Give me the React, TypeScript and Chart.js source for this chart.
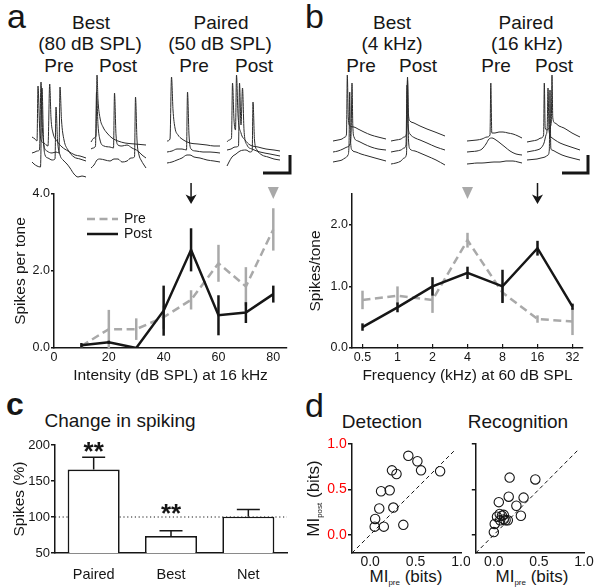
import React, { useEffect, useRef } from "react";
import { Chart, registerables } from "chart.js";

Chart.register(...registerables);

const FAMILY = "'Liberation Sans', Arial, Helvetica, sans-serif";
const INK = "#161616";
const GRAY = "#a9a9a9";

// ---------------- Panel a: intensity tuning at 16 kHz ----------------
const intensityDb = [10, 20, 30, 40, 50, 60, 70, 80];
const intensityPre = [0.05, 0.49, 0.49, 0.8, 1.25, 2.2, 1.6, 3.08];
const intensityPreErr = [0.04, 0.5, 0.28, 0.3, 0.25, 0.48, 0.5, 0.55];
const intensityPost = [0.07, 0.15, 0.0, 0.97, 2.55, 0.85, 0.92, 1.4];
const intensityPostErr = [0.06, 0.04, 0.0, 0.65, 0.56, 0.52, 0.27, 0.22];
const pairedIntensity = 50;
const bestIntensity = 80;

// ---------------- Panel b: frequency tuning at 60 dB SPL ----------------
const freqLabels = ["0.5", "1", "2", "4", "8", "16", "32"];
const freqPre = [0.78, 0.85, 0.78, 1.75, 0.9, 0.47, 0.43];
const freqPreErr = [0.15, 0.15, 0.21, 0.12, 0.15, 0.06, 0.22];
const freqPost = [0.34, 0.66, 1.0, 1.22, 1.0, 1.62, 0.67];
const freqPostErr = [0.06, 0.08, 0.15, 0.1, 0.27, 0.12, 0.05];
const pairedFreqIndex = 5;
const bestFreqIndex = 3;

// ---------------- Panel c: change in spiking ----------------
const spikeGroups = ["Paired", "Best", "Net"];
const spikeChange = [166, 73.5, 100.5];
const spikeChangeErr = [17, 7.5, 10];
const sigMarks = ["**", "**", ""];
const sigLevels = [200, 114, 0];
const baselinePct = 100;

// ---------------- Panel d: mutual information ----------------
const detectPre = [0.05, 0.055, 0.1, 0.12, 0.15, 0.215, 0.24, 0.29, 0.255, 0.365, 0.42, 0.52, 0.56, 0.77];
const detectPost = [0.09, 0.175, 0.29, 0.48, 0.09, 0.49, 0.71, 0.67, 0.3, 0.11, 0.87, 0.81, 0.71, 0.7];
const recogPre = [0.0, 0.01, 0.035, 0.055, 0.065, 0.09, 0.11, 0.13, 0.155, 0.07, 0.11, 0.175, 0.165, 0.25, 0.33, 0.3, 0.46];
const recogPost = [0.03, 0.12, 0.2, 0.36, 0.23, 0.21, 0.22, 0.16, 0.16, 0.16, 0.17, 0.63, 0.42, 0.32, 0.41, 0.21, 0.61];

// ---------------- Example membrane-potential traces (page units) ----------------
const aBestPre = [
  [[32,137],[35,139],[37,141],[38,86],[39.5,125],[41,140],[44,143],[48,146],[49.7,84],[51,118],[53,133],[57,141],[62,147],[68,151],[75,155],[80,156],[86,158]],
  [[32,153],[35,152],[37,151],[39.5,150],[41,82],[42.5,130],[44,146],[47,151],[52,153],[56,152],[59,153],[60,87],[61.5,120],[64,140],[68,150],[74,157],[80,159],[86,161]],
  [[32,162],[34,164],[37,166],[40.5,167],[42,88],[43.5,140],[45,155],[48,158],[52,160],[55,159],[56,107],[57.5,140],[60,155],[63,160],[67,164],[70,168],[74,174],[78,177],[82,176],[86,177]],
];
const aBestPost = [
  [[91,142],[94,138],[96,136],[97,75],[98,100],[100,118],[103,127],[107,133],[112,138],[118,141],[125,143],[135,144],[146,145]],
  [[91,149],[93,148],[95.5,146],[96.5,92],[98,125],[100,140],[104,146],[110,147],[113.5,148],[114.5,93],[116,135],[118,145],[122,146],[127,145],[132,148],[138,151],[142,155],[146,158]],
  [[91,168],[94,165],[97,160],[100,159],[105,160],[110,161],[114,159],[118,159],[122,162],[127,161],[131,158],[134.5,157],[135.5,97],[137,140],[139,155],[141,160],[144,165],[146,168]],
];
const aPairedPre = [
  [[167,141],[170,139],[171.5,77],[173,110],[175,128],[178,135],[182,139],[190,143],[198,144],[207,145],[214,146],[220,146]],
  [[167,152],[172,151],[177,149],[182,149],[186.5,150],[187.5,92],[189,135],[191,149],[196,151],[203,152],[210,152],[220,153]],
  [[167,163],[172,162],[177,160],[182,158],[187,155],[190,155],[194,157],[200,158],[207,160],[214,161],[220,162]],
];
const aPairedPost = [
  [[227,142],[229,140],[231.5,138],[232.5,83],[234,120],[235.5,130],[236.5,75],[238,115],[241,133],[245,140],[250,145],[258,147],[266,149],[274,150],[280,151]],
  [[227,150],[231,149],[235,147],[238.5,146],[239.5,83],[241,125],[242.5,88],[244,130],[247,145],[252,149],[260,152],[270,154],[280,156]],
  [[227,166],[229,162],[232,157],[236,154],[240,151],[246,150],[250,152],[252.2,151],[253,102],[254.5,140],[257,150],[262,155],[268,157],[274,159],[280,160]],
];
const bBestPre = [
  [[333,141],[338,140],[342,139],[345,137],[346.5,134],[347.3,75],[348.3,118],[350,126],[354,127],[358,129],[364,132],[371,135],[378,137],[386,139]],
  [[333,152],[338,151],[343,149],[347,147],[350,144],[351.2,130],[352,83],[352.8,125],[354,137],[358,141],[364,144],[371,147],[378,149],[386,150]],
  [[333,162],[338,161],[342,160],[345,158],[348,155],[349,145],[349.7,92],[350.5,140],[352,150],[356,152],[361,154],[368,156],[375,158],[386,161]],
];
const bBestPost = [
  [[391,141],[396,140],[401,139],[404,137],[406.5,134],[407.5,77],[408.5,115],[410,121],[414,123],[420,126],[427,129],[435,132],[445,136]],
  [[391,152],[396,151],[401,150],[404,148],[406,145],[407,85],[408,125],[410,134],[415,138],[420,140],[427,143],[436,147],[445,150]],
  [[391,164],[396,163],[401,161],[404,158],[406.5,154],[407.5,80],[408.5,140],[410,149],[415,151],[420,153],[427,156],[436,160],[445,165]],
];
const bPairedPre = [
  [[467,141],[472,140.5],[477,140],[482,139],[487,137],[490,135],[490.8,83],[491.8,133],[495,133],[499,132],[503,132],[508,133],[513,134],[518,136],[522,138]],
  [[467,152],[472,151.5],[477,151],[482,149],[486,144],[489,139],[492,138],[496,140],[500,143],[505,147],[510,151],[516,154],[522,155]],
  [[467,164],[472,163.5],[477,163],[482,163],[488,162.5],[494,162],[500,162],[506,161],[513,161],[518,162],[522,163]],
];
const bPairedPost = [
  [[527,142],[532,141],[537,140],[541,138],[543.6,135],[544.3,83],[545.2,128],[547,130],[550,127],[551.3,122],[552,75],[552.8,118],[555,123],[559,126],[564,128],[572,133],[580,137]],
  [[527,152],[532,151],[537,150],[541,148],[544,143],[546,135],[547.2,128],[548,88],[549,130],[551,137],[555,140],[560,143],[568,146],[580,150]],
  [[527,160],[532,159.5],[537,159],[541,158],[545,157],[548,155],[549.3,150],[550,90],[550.8,148],[552,150],[556,152],[562,155],[570,157.5],[580,160]],
];
const traceGroups = [aBestPre, aBestPost, aPairedPre, aPairedPost, bBestPre, bBestPost, bPairedPre, bPairedPost];
const scaleBarA = [[263,173],[290,173],[290,155]];
const scaleBarB = [[562,173],[588,173],[588,155]];

// ---------------- helpers ----------------
function fixBox(w?: number, h?: number) {
  return (s: any) => {
    if (w !== undefined) s.width = w;
    if (h !== undefined) s.height = h;
    s.paddingLeft = 0;
    s.paddingRight = 0;
    s.paddingTop = 0;
    s.paddingBottom = 0;
  };
}
const font = (size: number, weight: any = "normal") => ({ family: FAMILY, size, weight });

const lineErrorBars = {
  id: "lineErrorBars",
  afterDatasetDraw(chart: any, args: any) {
    const ds: any = chart.data.datasets[args.index];
    if (!ds.errors) return;
    const ctx = chart.ctx;
    const ys = chart.scales.y;
    ctx.save();
    ctx.strokeStyle = ds.borderColor;
    ctx.lineWidth = ds.errWidth || 2.5;
    ctx.setLineDash([]);
    ctx.lineCap = "butt";
    args.meta.data.forEach((el: any, i: number) => {
      const v = ds.data[i].y;
      const e = ds.errors[i];
      if (!e) return;
      ctx.beginPath();
      ctx.moveTo(el.x, ys.getPixelForValue(v - e));
      ctx.lineTo(el.x, ys.getPixelForValue(v + e));
      ctx.stroke();
    });
    ctx.restore();
  },
};

function cueMarkers(pairedX: number, bestX: number) {
  return {
    id: "cues",
    afterDraw(chart: any) {
      const ctx = chart.ctx;
      const top = chart.chartArea.top;
      const xs = chart.scales.x;
      const ax = xs.getPixelForValue(pairedX);
      const bx = xs.getPixelForValue(bestX);
      ctx.save();
      ctx.strokeStyle = INK;
      ctx.fillStyle = INK;
      ctx.lineWidth = 1.5;
      ctx.beginPath();
      ctx.moveTo(ax, top - 11);
      ctx.lineTo(ax, top + 3);
      ctx.stroke();
      ctx.beginPath();
      ctx.moveTo(ax - 5.5, top + 0.5);
      ctx.lineTo(ax, top + 3);
      ctx.lineTo(ax + 5.5, top + 0.5);
      ctx.lineTo(ax, top + 10);
      ctx.closePath();
      ctx.fill();
      ctx.fillStyle = GRAY;
      ctx.beginPath();
      ctx.moveTo(bx - 5.5, top - 7);
      ctx.lineTo(bx + 5.5, top - 7);
      ctx.lineTo(bx, top + 5);
      ctx.closePath();
      ctx.fill();
      ctx.restore();
    },
  };
}

const legendA = {
  id: "legendA",
  afterDraw(chart: any) {
    const ctx = chart.ctx;
    const { left, top } = chart.chartArea;
    const rows = [
      { label: "Pre", color: GRAY, dash: [8, 4.5] },
      { label: "Post", color: INK, dash: [] as number[] },
    ];
    ctx.save();
    rows.forEach((r, i) => {
      const y = top + 25 + i * 15;
      ctx.strokeStyle = r.color;
      ctx.lineWidth = 2.5;
      ctx.setLineDash(r.dash);
      ctx.beginPath();
      ctx.moveTo(left + 33, y);
      ctx.lineTo(left + 64, y);
      ctx.stroke();
      ctx.setLineDash([]);
      ctx.fillStyle = INK;
      ctx.font = `14px ${FAMILY}`;
      ctx.textBaseline = "middle";
      ctx.textAlign = "left";
      ctx.fillText(r.label, left + 70, y + 0.5);
    });
    ctx.restore();
  },
};

const barDecor = {
  id: "barDecor",
  beforeDatasetsDraw(chart: any) {
    const ctx = chart.ctx;
    const { left, right } = chart.chartArea;
    const y = chart.scales.y.getPixelForValue(baselinePct);
    ctx.save();
    ctx.strokeStyle = INK;
    ctx.lineWidth = 1;
    ctx.setLineDash([1.2, 2.6]);
    ctx.beginPath();
    ctx.moveTo(left, y);
    ctx.lineTo(right, y);
    ctx.stroke();
    ctx.restore();
  },
  afterDatasetsDraw(chart: any) {
    const ctx = chart.ctx;
    const ys = chart.scales.y;
    const meta = chart.getDatasetMeta(0);
    ctx.save();
    ctx.strokeStyle = INK;
    ctx.lineWidth = 1.5;
    meta.data.forEach((el: any, i: number) => {
      const v = spikeChange[i];
      const top = ys.getPixelForValue(v + spikeChangeErr[i]);
      ctx.beginPath();
      ctx.moveTo(el.x, ys.getPixelForValue(v));
      ctx.lineTo(el.x, top);
      ctx.moveTo(el.x - 11.5, top);
      ctx.lineTo(el.x + 11.5, top);
      ctx.stroke();
      if (sigMarks[i]) {
        ctx.fillStyle = INK;
        ctx.font = `bold 26px ${FAMILY}`;
        ctx.textAlign = "center";
        ctx.textBaseline = "alphabetic";
        ctx.fillText(sigMarks[i], el.x, ys.getPixelForValue(sigLevels[i]) + 0.57 * 26);
      }
    });
    ctx.restore();
  },
};

// rotated y title with subscript for the Detection panel
const miYTitle = {
  id: "miYTitle",
  afterDraw(chart: any) {
    const ctx = chart.ctx;
    const { top, bottom } = chart.chartArea;
    const big = `17px ${FAMILY}`;
    const small = `8px ${FAMILY}`;
    ctx.save();
    ctx.fillStyle = INK;
    ctx.font = big;
    const wMI = ctx.measureText("MI").width;
    const wRest = ctx.measureText(" (bits)").width;
    ctx.font = small;
    const wSub = ctx.measureText("post").width;
    const total = wMI + wSub + wRest;
    ctx.translate(19, (top + bottom) / 2);
    ctx.rotate(-Math.PI / 2);
    ctx.textAlign = "left";
    ctx.textBaseline = "alphabetic";
    let x = -total / 2;
    ctx.font = big;
    ctx.fillText("MI", x, 0);
    x += wMI;
    ctx.font = small;
    ctx.fillText("post", x, 3);
    x += wSub;
    ctx.font = big;
    ctx.fillText(" (bits)", x, 0);
    ctx.restore();
  },
};

function lineScales(opts: {
  xMin: number; xMax: number; xStep: number; xLabel: (v: number) => string; xTitle: string;
  xTitlePad: number; xTickLen: number; xTickPad: number;
  yMax: number; yStep: number; yTitle: string; yTitlePad: number; yWidth: number;
}) {
  return {
    x: {
      type: "linear",
      min: opts.xMin,
      max: opts.xMax,
      ticks: {
        stepSize: opts.xStep,
        includeBounds: false,
        autoSkip: false,
        maxRotation: 0,
        callback: (v: any) => opts.xLabel(Number(v)),
        font: font(12.5),
        color: INK,
        padding: opts.xTickPad,
      },
      grid: {
        display: opts.xTickLen !== 0,
        drawOnChartArea: false,
        drawTicks: opts.xTickLen !== 0,
        tickLength: opts.xTickLen,
        color: INK,
        lineWidth: 1.2,
      },
      border: { display: true, color: INK, width: 1.5 },
      title: { display: true, text: opts.xTitle, font: font(15.5), color: INK, padding: { top: 0, bottom: opts.xTitlePad } },
      afterFit: fixBox(undefined, 42),
    },
    y: {
      min: 0,
      max: opts.yMax,
      ticks: {
        stepSize: opts.yStep,
        includeBounds: false,
        autoSkip: false,
        callback: (v: any) => Number(v).toFixed(1),
        font: font(12.5),
        color: INK,
        padding: 1,
      },
      grid: { drawOnChartArea: false, drawTicks: true, tickLength: 3, color: INK, lineWidth: 1.5 },
      border: { display: true, color: INK, width: 1.5 },
      title: { display: true, text: opts.yTitle, font: font(15.5), color: INK, padding: { top: opts.yTitlePad, bottom: 0 } },
      afterFit: fixBox(opts.yWidth),
    },
  };
}

function scatterScales(yWidth: number, showYLabels: boolean) {
  return {
    x: {
      type: "linear",
      min: -0.2,
      max: 1.0,
      ticks: {
        stepSize: 0.5,
        includeBounds: false,
        autoSkip: false,
        maxRotation: 0,
        callback: (v: any) => Number(v).toFixed(1),
        font: font(14),
        color: INK,
        padding: 1,
      },
      grid: { display: false, drawTicks: false },
      border: { display: true, color: INK, width: 1.5 },
      afterFit: fixBox(undefined, 35),
    },
    y: {
      type: "linear",
      min: -0.2,
      max: 1.0,
      ticks: {
        stepSize: 0.5,
        includeBounds: false,
        autoSkip: false,
        callback: (v: any) => (showYLabels ? Number(v).toFixed(1) : ""),
        font: font(14),
        color: "#ff0000",
        padding: 1.3,
      },
      grid: { drawOnChartArea: false, drawTicks: true, tickLength: 4, color: INK, lineWidth: 1.5 },
      border: { display: true, color: INK, width: 1.5 },
      afterFit: fixBox(yWidth),
    },
  };
}

function scatterConfig(pre: number[], post: number[], yWidth: number, showYLabels: boolean, rightPad: number) {
  return {
    type: "scatter",
    data: {
      datasets: [
        {
          data: pre.map((x, i) => ({ x, y: post[i] })),
          pointRadius: 4.7,
          pointBackgroundColor: "rgba(255,255,255,0)",
          pointBorderColor: INK,
          pointBorderWidth: 1.1,
          order: 1,
        },
        {
          type: "line",
          data: [{ x: -0.2, y: -0.2 }, { x: 0.94, y: 0.94 }],
          borderColor: INK,
          borderWidth: 1,
          borderDash: [4, 3],
          pointRadius: 0,
          fill: false,
          order: 2,
        },
      ],
    },
    options: {
      animation: false,
      responsive: false,
      devicePixelRatio: 1,
      layout: { padding: { top: 9, right: rightPad, left: 0, bottom: 0 } },
      plugins: { legend: { display: false }, tooltip: { enabled: false } },
      scales: scatterScales(yWidth, showYLabels),
    },
    plugins: showYLabels ? [miYTitle] : [],
  } as any;
}

// ---------------- HTML text helper ----------------
function Txt(props: { x: number; y: number; size: number; children: any; align?: string; weight?: any }) {
  const { x, y, size, children, align = "center", weight = "normal" } = props;
  return (
    <div
      style={{
        position: "absolute",
        left: x,
        top: y - 0.8465 * size,
        fontSize: size,
        lineHeight: `${size}px`,
        fontFamily: FAMILY,
        fontWeight: weight,
        color: INK,
        whiteSpace: "nowrap",
        transform: align === "center" ? "translateX(-50%)" : undefined,
      }}
    >
      {children}
    </div>
  );
}

const Sub = (props: { children: any }) => (
  <span style={{ fontSize: 8, position: "relative", top: 3, lineHeight: 0 }}>{props.children}</span>
);

export default function App() {
  const traceRef = useRef<HTMLCanvasElement>(null);
  const aRef = useRef<HTMLCanvasElement>(null);
  const bRef = useRef<HTMLCanvasElement>(null);
  const cRef = useRef<HTMLCanvasElement>(null);
  const d1Ref = useRef<HTMLCanvasElement>(null);
  const d2Ref = useRef<HTMLCanvasElement>(null);

  useEffect(() => {
    const charts: Chart[] = [];

    // traces
    const traceDatasets: any[] = [];
    traceGroups.forEach((group) =>
      group.forEach((t) =>
        traceDatasets.push({
          data: t.map(([x, y]) => ({ x, y })),
          borderColor: "#2b2b2b",
          borderWidth: 1,
          pointRadius: 0,
          cubicInterpolationMode: "monotone",
          fill: false,
        })
      )
    );
    [scaleBarA, scaleBarB].forEach((bar) =>
      traceDatasets.push({
        data: bar.map(([x, y]) => ({ x, y })),
        borderColor: INK,
        borderWidth: 3,
        borderJoinStyle: "miter",
        borderCapStyle: "butt",
        pointRadius: 0,
        tension: 0,
        fill: false,
      })
    );
    charts.push(
      new Chart(traceRef.current!, {
        type: "line",
        data: { datasets: traceDatasets },
        options: {
          animation: false,
          responsive: false,
          devicePixelRatio: 1,
          layout: { padding: 0 },
          plugins: { legend: { display: false }, tooltip: { enabled: false } },
          scales: {
            x: { type: "linear", display: false, min: 0, max: 600 },
            y: { type: "linear", display: false, min: 70, max: 185, reverse: true },
          },
        },
      } as any)
    );

    // panel a
    charts.push(
      new Chart(aRef.current!, {
        type: "line",
        data: {
          datasets: [
            {
              label: "Pre",
              data: intensityDb.map((x, i) => ({ x, y: intensityPre[i] })),
              errors: intensityPreErr,
              borderColor: GRAY,
              borderWidth: 2.5,
              borderDash: [8, 4.5],
              pointRadius: 0,
              fill: false,
              order: 2,
            },
            {
              label: "Post",
              data: intensityDb.map((x, i) => ({ x, y: intensityPost[i] })),
              errors: intensityPostErr,
              borderColor: INK,
              borderWidth: 2.5,
              pointRadius: 0,
              fill: false,
              order: 1,
            },
          ],
        },
        options: {
          animation: false,
          responsive: false,
          devicePixelRatio: 1,
          layout: { padding: { top: 14, right: 13, left: 0, bottom: 0 } },
          plugins: { legend: { display: false }, tooltip: { enabled: false } },
          scales: lineScales({
            xMin: 0, xMax: 85, xStep: 20, xLabel: (v) => String(v), xTitle: "Intensity (dB SPL) at 16 kHz",
            xTitlePad: 4.7, xTickLen: 0, xTickPad: 2,
            yMax: 4, yStep: 2, yTitle: "Spikes per tone", yTitlePad: 11, yWidth: 54,
          }),
        },
        plugins: [lineErrorBars, cueMarkers(pairedIntensity, bestIntensity), legendA],
      } as any)
    );

    // panel b
    charts.push(
      new Chart(bRef.current!, {
        type: "line",
        data: {
          datasets: [
            {
              label: "Pre",
              data: freqPre.map((y, i) => ({ x: i, y })),
              errors: freqPreErr,
              borderColor: GRAY,
              borderWidth: 2.5,
              borderDash: [8, 4.5],
              pointRadius: 0,
              fill: false,
              order: 2,
            },
            {
              label: "Post",
              data: freqPost.map((y, i) => ({ x: i, y })),
              errors: freqPostErr,
              borderColor: INK,
              borderWidth: 2.5,
              pointRadius: 0,
              fill: false,
              order: 1,
            },
          ],
        },
        options: {
          animation: false,
          responsive: false,
          devicePixelRatio: 1,
          layout: { padding: { top: 14, right: 17, left: 0, bottom: 0 } },
          plugins: { legend: { display: false }, tooltip: { enabled: false } },
          scales: lineScales({
            xMin: -0.3, xMax: 6.3, xStep: 1, xLabel: (v) => freqLabels[v] ?? "", xTitle: "Frequency (kHz) at 60 dB SPL",
            xTitlePad: 5, xTickLen: -4, xTickPad: 6,
            yMax: 2.5, yStep: 1, yTitle: "Spikes/tone", yTitlePad: 6, yWidth: 52,
          }),
        },
        plugins: [lineErrorBars, cueMarkers(pairedFreqIndex, bestFreqIndex)],
      } as any)
    );

    // panel c
    charts.push(
      new Chart(cRef.current!, {
        type: "bar",
        data: {
          labels: spikeGroups,
          datasets: [
            {
              data: spikeChange,
              backgroundColor: "#ffffff",
              borderColor: INK,
              borderWidth: 1.7,
              barPercentage: 0.673,
              categoryPercentage: 1,
            },
          ],
        },
        options: {
          animation: false,
          responsive: false,
          devicePixelRatio: 1,
          layout: { padding: { top: 15, right: 13, left: 0, bottom: 0 } },
          plugins: { legend: { display: false }, tooltip: { enabled: false } },
          scales: {
            x: {
              ticks: { font: font(14.5), color: INK, padding: 13, maxRotation: 0, autoSkip: false },
              grid: { display: false, drawTicks: false },
              border: { display: true, color: INK, width: 1.5 },
              afterFit: fixBox(undefined, 35),
            },
            y: {
              min: 50,
              max: 200,
              ticks: { stepSize: 50, includeBounds: false, autoSkip: false, font: font(13), color: INK, padding: 1 },
              grid: { drawOnChartArea: false, drawTicks: true, tickLength: 4, color: INK, lineWidth: 1.5 },
              border: { display: true, color: INK, width: 1.5 },
              title: { display: true, text: "Spikes (%)", font: font(15.5), color: INK, padding: { top: 10, bottom: 0 } },
              afterFit: fixBox(55),
            },
          },
        },
        plugins: [barDecor],
      } as any)
    );

    // panel d
    charts.push(new Chart(d1Ref.current!, scatterConfig(detectPre, detectPost, 52, true, 9)));
    charts.push(new Chart(d2Ref.current!, scatterConfig(recogPre, recogPost, 5, false, 16)));

    return () => charts.forEach((c) => c.destroy());
  }, []);

  const abs = (left: number, top: number): React.CSSProperties => ({ position: "absolute", left, top });

  return (
    <div
      style={{
        position: "absolute",
        left: 0,
        top: 0,
        width: 600,
        height: 588,
        background: "#ffffff",
        overflow: "hidden",
        fontFamily: FAMILY,
      }}
    >
      {/* panel letters */}
      <Txt x={7} y={28} size={34} align="left">a</Txt>
      <Txt x={305} y={28} size={34} align="left">b</Txt>
      <Txt x={6} y={415} size={32} align="left" weight="bold">c</Txt>
      <Txt x={305} y={417} size={34} align="left">d</Txt>

      {/* panel a headers */}
      <Txt x={91} y={29} size={19}>Best</Txt>
      <Txt x={90} y={50} size={19}>(80 dB SPL)</Txt>
      <Txt x={59} y={72} size={19}>Pre</Txt>
      <Txt x={118} y={72} size={19}>Post</Txt>
      <Txt x={221} y={29} size={19}>Paired</Txt>
      <Txt x={220} y={50} size={19}>(50 dB SPL)</Txt>
      <Txt x={194} y={72} size={19}>Pre</Txt>
      <Txt x={254} y={72} size={19}>Post</Txt>

      {/* panel b headers */}
      <Txt x={392} y={29} size={19}>Best</Txt>
      <Txt x={392} y={50} size={19}>(4 kHz)</Txt>
      <Txt x={361} y={72} size={19}>Pre</Txt>
      <Txt x={418} y={72} size={19}>Post</Txt>
      <Txt x={526} y={29} size={19}>Paired</Txt>
      <Txt x={527} y={50} size={19}>(16 kHz)</Txt>
      <Txt x={496} y={72} size={19}>Pre</Txt>
      <Txt x={554} y={72} size={19}>Post</Txt>

      {/* panel c title */}
      <Txt x={120} y={427} size={19}>Change in spiking</Txt>

      {/* panel d titles */}
      <Txt x={382} y={428} size={19}>Detection</Txt>
      <Txt x={518} y={428} size={19}>Recognition</Txt>
      <Txt x={406} y={582} size={17}>
        MI<Sub>pre</Sub> (bits)
      </Txt>
      <Txt x={532} y={582} size={17}>
        MI<Sub>pre</Sub> (bits)
      </Txt>

      <canvas ref={traceRef} width={600} height={115} style={abs(0, 70)} />
      <canvas ref={aRef} width={300} height={210} style={abs(0, 180)} />
      <canvas ref={bRef} width={300} height={210} style={abs(300, 180)} />
      <canvas ref={cRef} width={300} height={158} style={abs(0, 430)} />
      <canvas ref={d1Ref} width={170} height={153} style={abs(300, 435)} />
      <canvas ref={d2Ref} width={130} height={153} style={abs(470, 435)} />
    </div>
  );
}
